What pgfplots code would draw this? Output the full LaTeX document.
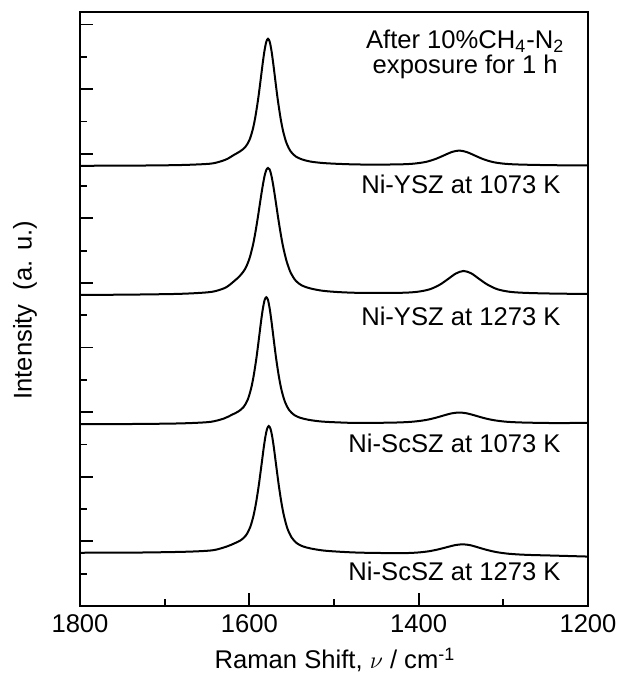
\documentclass[border=0pt]{standalone}
\usepackage{fontspec}
\setmainfont{Liberation Sans}
\usepackage{pgfplots}
\usepackage{pgfplotstable}
\pgfplotsset{compat=1.18}
\pgfplotstableread{
x y
1800 6.814
1760 6.816
1728 6.818
1688 6.824
1663 6.834
1643 6.852
1628 6.909
1618 6.984
1611 7.037
1605 7.101
1600 7.208
1596 7.374
1593 7.563
1590 7.810
1588 8.004
1586 8.213
1584 8.422
1582 8.603
1580 8.733
1578 8.780
1576 8.738
1574 8.608
1572 8.423
1570 8.212
1568 7.999
1566 7.800
1563 7.544
1560 7.345
1556 7.162
1551 7.034
1545 6.957
1538 6.914
1528 6.880
1513 6.857
1493 6.843
1468 6.834
1427 6.835
1407 6.846
1392 6.873
1380 6.920
1370 6.976
1361 7.027
1352 7.050
1343 7.026
1334 6.975
1324 6.918
1312 6.871
1297 6.844
1277 6.832
1240 6.823
1200 6.820
}\specA
\pgfplotstableread{
x y
1800 4.815
1760 4.818
1728 4.822
1688 4.830
1663 4.843
1643 4.866
1628 4.929
1618 5.028
1611 5.113
1605 5.216
1600 5.373
1596 5.571
1593 5.772
1590 6.011
1588 6.185
1586 6.357
1584 6.518
1582 6.656
1580 6.748
1578 6.780
1576 6.758
1574 6.666
1572 6.528
1570 6.364
1568 6.189
1566 6.012
1563 5.766
1560 5.555
1556 5.338
1551 5.155
1545 5.033
1538 4.962
1528 4.916
1513 4.879
1493 4.858
1468 4.847
1422 4.848
1402 4.863
1387 4.902
1375 4.974
1365 5.064
1356 5.147
1347 5.186
1338 5.150
1329 5.067
1319 4.977
1307 4.903
1292 4.863
1272 4.846
1240 4.836
1200 4.830
}\specB
\pgfplotstableread{
x y
1800 2.814
1760 2.816
1730 2.818
1690 2.824
1665 2.834
1645 2.852
1630 2.902
1620 2.964
1613 3.011
1607 3.077
1602 3.190
1598 3.362
1595 3.554
1592 3.804
1590 4.001
1588 4.211
1586 4.421
1584 4.603
1582 4.733
1580 4.780
1578 4.738
1576 4.608
1574 4.423
1572 4.212
1570 3.999
1568 3.800
1565 3.544
1562 3.345
1558 3.162
1553 3.034
1547 2.957
1540 2.914
1530 2.882
1515 2.856
1495 2.842
1470 2.833
1427 2.840
1407 2.853
1392 2.878
1380 2.913
1370 2.951
1361 2.982
1352 2.995
1343 2.982
1334 2.951
1324 2.913
1312 2.878
1297 2.853
1277 2.840
1240 2.832
1200 2.835
}\specC
\pgfplotstableread{
x y
1800 0.824
1760 0.826
1727 0.828
1687 0.836
1662 0.846
1642 0.865
1627 0.919
1617 0.973
1610 1.019
1604 1.093
1599 1.219
1595 1.402
1592 1.601
1589 1.853
1587 2.048
1585 2.247
1583 2.450
1581 2.623
1579 2.743
1577 2.786
1575 2.743
1573 2.623
1571 2.450
1569 2.247
1567 2.045
1565 1.848
1562 1.593
1559 1.390
1555 1.199
1550 1.060
1544 0.973
1537 0.924
1527 0.889
1512 0.858
1492 0.839
1467 0.825
1423 0.818
1403 0.826
1388 0.847
1376 0.879
1366 0.913
1357 0.942
1348 0.955
1339 0.941
1330 0.908
1320 0.870
1308 0.834
1293 0.808
1273 0.792
1240 0.780
1200 0.765
}\specD
\begin{document}
\fontsize{12.8}{15}\selectfont
\begin{tikzpicture}
\begin{axis}[
  scale only axis, width=254pt, height=297pt,
  xmin=1200, xmax=1800, x dir=reverse,
  ymin=0, ymax=9.195,
  tick pos=left, tick align=inside,
  xtick={1200,1400,1600,1800}, minor xtick={1300,1500,1700},
  ytick={1,2,3,4,5,6,7,8,9}, minor ytick={0.5,1.5,2.5,3.5,4.5,5.5,6.5,7.5,8.5},
  yticklabels={},
  major tick length=6.3pt, minor tick length=3.3pt,
  tick style={line width=0.9pt, black},
  axis line style={line width=0.9pt},
  /pgf/number format/assume math mode=true, /pgf/number format/1000 sep={},
  xticklabel style={font=\fontsize{12.8}{15}\selectfont},
  xlabel={Raman Shift, $\nu$ / cm\textsuperscript{-1}},
  ylabel={Intensity\ \ (a. u.)},
  xlabel style={at={(axis description cs:0.502,-0.091)}, anchor=center, font=\fontsize{12.8}{15}\selectfont},
  ylabel style={at={(axis description cs:-0.108,0.498)}, anchor=center, font=\fontsize{12.8}{15}\selectfont},
]
\addplot[black, line width=1pt, smooth, tension=0.5] table {\specA};
\addplot[black, line width=1pt, smooth, tension=0.5] table {\specB};
\addplot[black, line width=1pt, smooth, tension=0.5] table {\specC};
\addplot[black, line width=1pt, smooth, tension=0.5] table {\specD};
\node[anchor=east, inner sep=0pt] at (axis cs:1232,6.53) {Ni-YSZ at 1073 K};
\node[anchor=east, inner sep=0pt] at (axis cs:1232,4.49) {Ni-YSZ at 1273 K};
\node[anchor=east, inner sep=0pt] at (axis cs:1232,2.51) {Ni-ScSZ at 1073 K};
\node[anchor=east, inner sep=0pt] at (axis cs:1232,0.54) {Ni-ScSZ at 1273 K};
\node[anchor=base, inner sep=0pt] at (axis cs:1345,8.63) {After 10\%CH\textsubscript{4}-N\textsubscript{2}};
\node[anchor=base, inner sep=0pt] at (axis cs:1345,8.24) {exposure for 1 h};
\coordinate (ll) at (axis description cs:0,0);
\coordinate (ur) at (axis description cs:1,1);
\end{axis}
\pgfresetboundingbox
\path[use as bounding box] ([shift={(-40pt,-35pt)}]ll) rectangle ([shift={(15.5pt,6pt)}]ur);
\end{tikzpicture}
\end{document}
